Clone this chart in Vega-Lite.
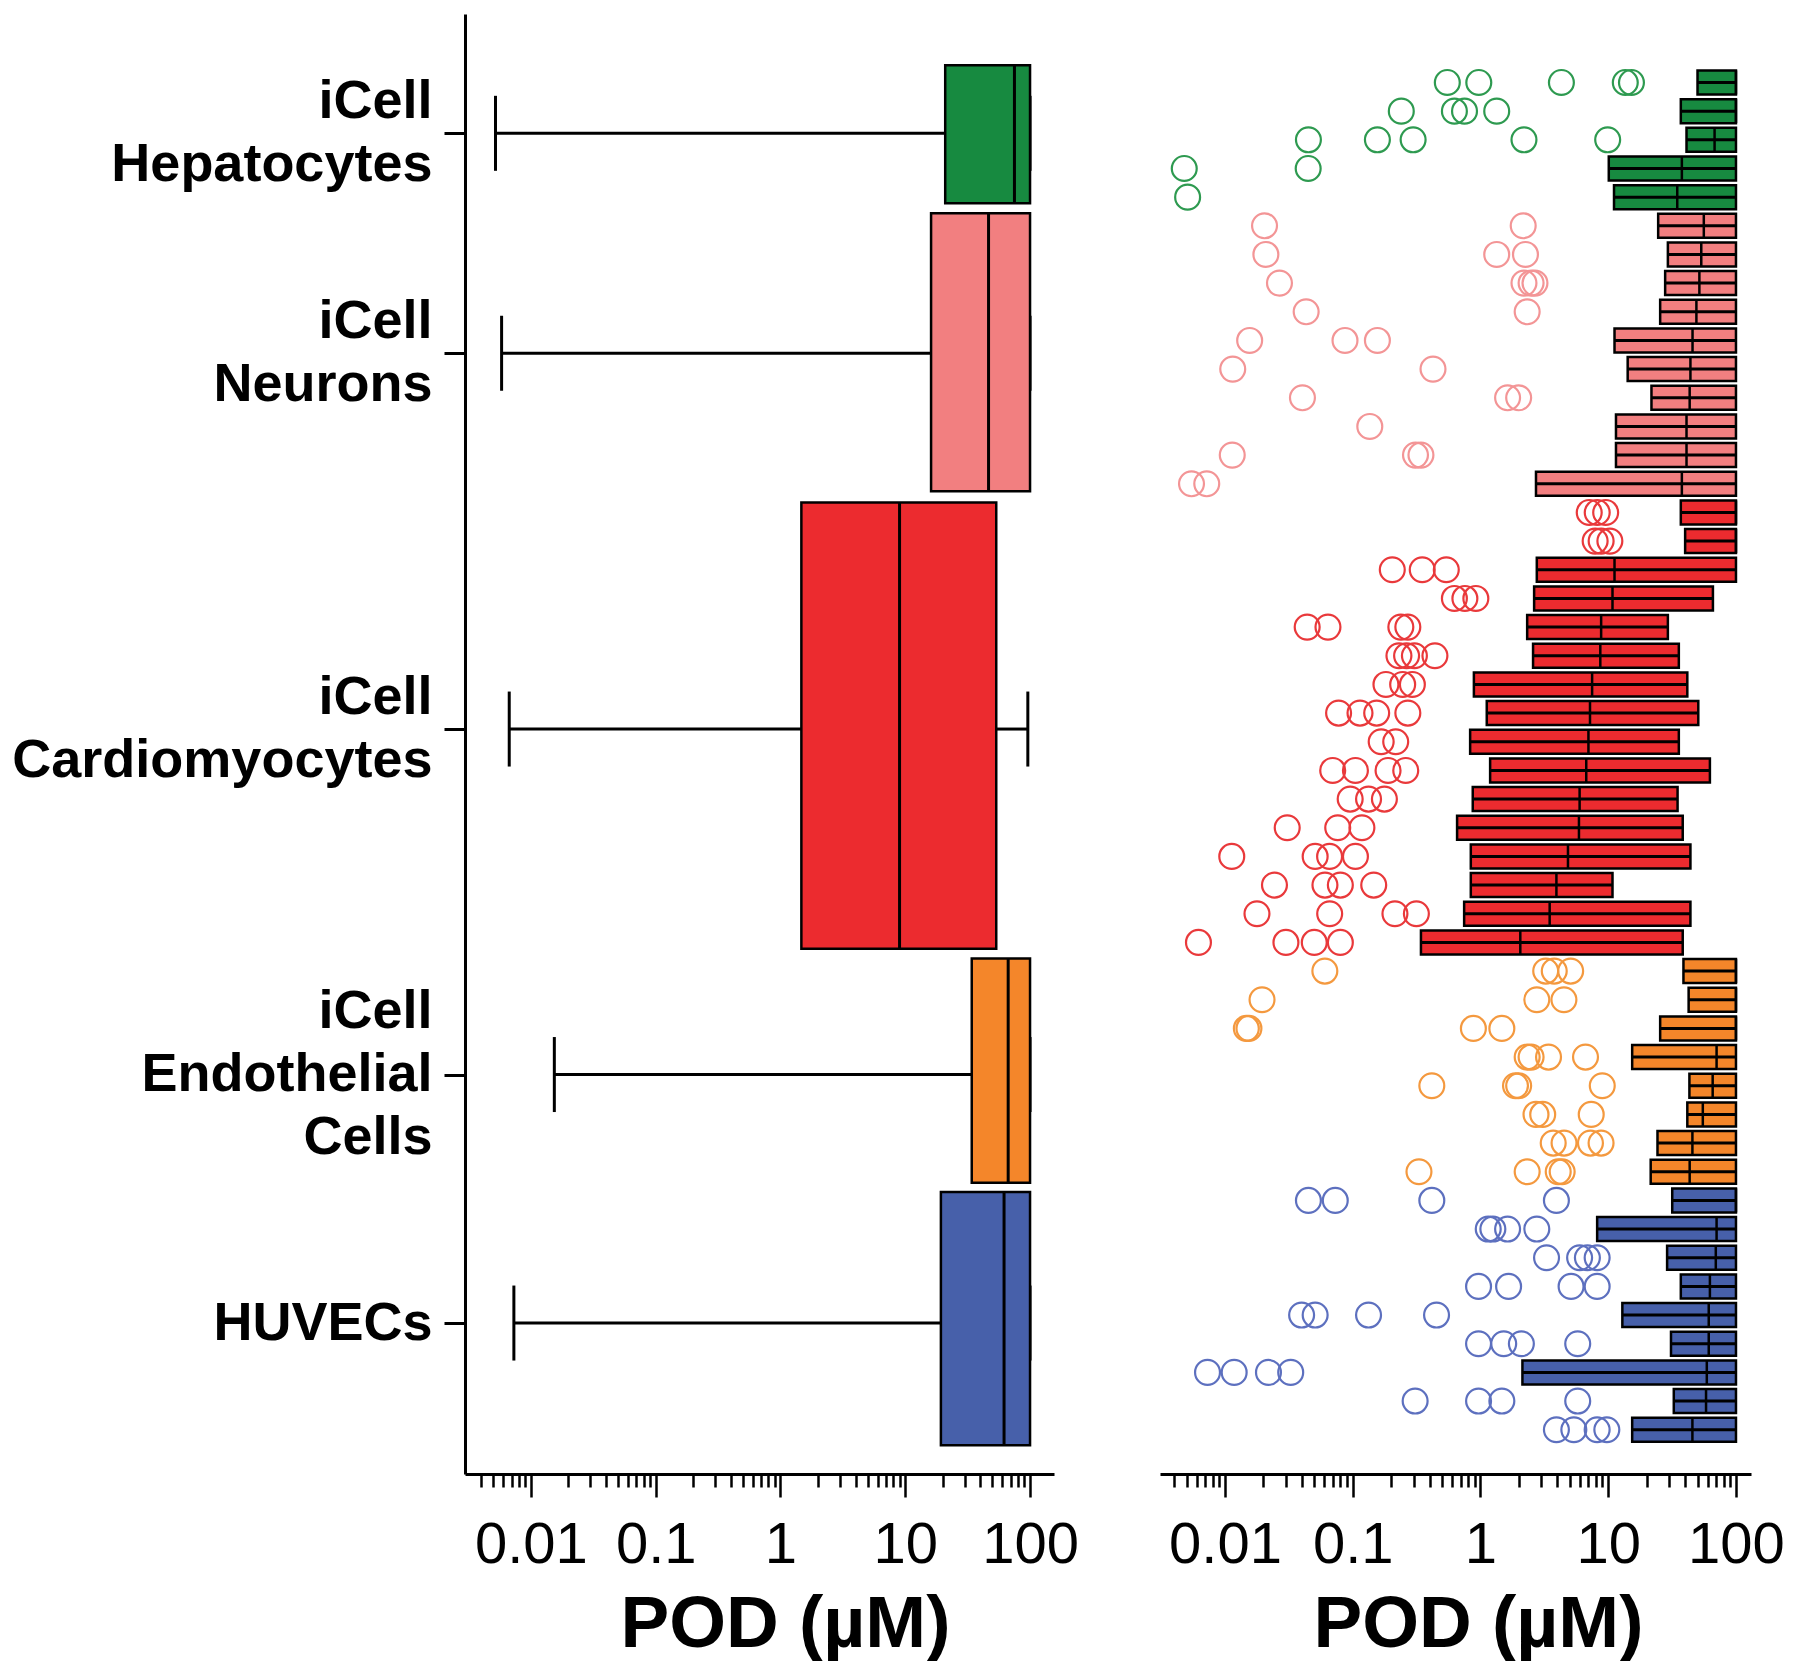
{
  "$schema": "https://vega.github.io/schema/vega-lite/v6.json",
  "padding": {"left": 11, "top": 14, "right": 0, "bottom": 0},
  "config": {"view": {"stroke": null}, "font": "Liberation Sans"},
  "datasets": {
    "lb": [
      {"c": "Hepatocytes", "mid": 1.92, "top": -0.44, "bot": 4.34, "mn": 0.0052, "q1": 20.9, "med": 75, "q3": 100, "mx": 100},
      {"c": "Neurons", "mid": 9.54, "top": 4.69, "bot": 14.32, "mn": 0.00582, "q1": 16.1, "med": 46.5, "q3": 100, "mx": 100},
      {"c": "Cardiomyocytes", "mid": 22.56, "top": 14.71, "bot": 30.17, "mn": 0.0067, "q1": 1.47, "med": 9.0, "q3": 53.6, "mx": 96},
      {"c": "Endothelial", "mid": 34.53, "top": 30.51, "bot": 38.28, "mn": 0.0154, "q1": 34.1, "med": 66.8, "q3": 100, "mx": 100},
      {"c": "HUVECs", "mid": 43.14, "top": 38.6, "bot": 47.37, "mn": 0.0073, "q1": 19.3, "med": 61.9, "q3": 100, "mx": 100}
    ],
    "rb": [
      {"r": 0, "c": "Hepatocytes", "lo": 50, "med": 100, "hi": 100},
      {"r": 1, "c": "Hepatocytes", "lo": 37, "med": 100, "hi": 100},
      {"r": 2, "c": "Hepatocytes", "lo": 41, "med": 68, "hi": 100},
      {"r": 3, "c": "Hepatocytes", "lo": 10.1, "med": 37.7, "hi": 100},
      {"r": 4, "c": "Hepatocytes", "lo": 11.1, "med": 34.7, "hi": 100},
      {"r": 5, "c": "Neurons", "lo": 24.6, "med": 56, "hi": 100},
      {"r": 6, "c": "Neurons", "lo": 29.3, "med": 53.5, "hi": 100},
      {"r": 7, "c": "Neurons", "lo": 27.9, "med": 51.7, "hi": 100},
      {"r": 8, "c": "Neurons", "lo": 25.5, "med": 49, "hi": 100},
      {"r": 9, "c": "Neurons", "lo": 11.2, "med": 45.7, "hi": 100},
      {"r": 10, "c": "Neurons", "lo": 14.2, "med": 44, "hi": 100},
      {"r": 11, "c": "Neurons", "lo": 21.8, "med": 43.4, "hi": 100},
      {"r": 12, "c": "Neurons", "lo": 11.5, "med": 41, "hi": 100},
      {"r": 13, "c": "Neurons", "lo": 11.5, "med": 41, "hi": 100},
      {"r": 14, "c": "Neurons", "lo": 2.72, "med": 37.7, "hi": 100},
      {"r": 15, "c": "Cardiomyocytes", "lo": 37, "med": 100, "hi": 100},
      {"r": 16, "c": "Cardiomyocytes", "lo": 40, "med": 100, "hi": 100},
      {"r": 17, "c": "Cardiomyocytes", "lo": 2.76, "med": 11.2, "hi": 100},
      {"r": 18, "c": "Cardiomyocytes", "lo": 2.63, "med": 10.8, "hi": 66},
      {"r": 19, "c": "Cardiomyocytes", "lo": 2.32, "med": 8.8, "hi": 29.3},
      {"r": 20, "c": "Cardiomyocytes", "lo": 2.58, "med": 8.67, "hi": 35.7},
      {"r": 21, "c": "Cardiomyocytes", "lo": 0.888, "med": 7.48, "hi": 41.6},
      {"r": 22, "c": "Cardiomyocytes", "lo": 1.12, "med": 7.2, "hi": 50.7},
      {"r": 23, "c": "Cardiomyocytes", "lo": 0.83, "med": 7.0, "hi": 35.7},
      {"r": 24, "c": "Cardiomyocytes", "lo": 1.19, "med": 6.73, "hi": 62.5},
      {"r": 25, "c": "Cardiomyocytes", "lo": 0.87, "med": 5.97, "hi": 34.9},
      {"r": 26, "c": "Cardiomyocytes", "lo": 0.656, "med": 5.9, "hi": 38.3},
      {"r": 27, "c": "Cardiomyocytes", "lo": 0.84, "med": 4.84, "hi": 44},
      {"r": 28, "c": "Cardiomyocytes", "lo": 0.84, "med": 3.93, "hi": 10.8},
      {"r": 29, "c": "Cardiomyocytes", "lo": 0.745, "med": 3.48, "hi": 44},
      {"r": 30, "c": "Cardiomyocytes", "lo": 0.342, "med": 2.05, "hi": 38.3},
      {"r": 31, "c": "Endothelial", "lo": 38.8, "med": 100, "hi": 100},
      {"r": 32, "c": "Endothelial", "lo": 42.6, "med": 100, "hi": 100},
      {"r": 33, "c": "Endothelial", "lo": 25.5, "med": 100, "hi": 100},
      {"r": 34, "c": "Endothelial", "lo": 15.4, "med": 70.5, "hi": 100},
      {"r": 35, "c": "Endothelial", "lo": 43.2, "med": 65.7, "hi": 100},
      {"r": 36, "c": "Endothelial", "lo": 41.6, "med": 55, "hi": 100},
      {"r": 37, "c": "Endothelial", "lo": 24.3, "med": 45.6, "hi": 100},
      {"r": 38, "c": "Endothelial", "lo": 21.5, "med": 43.4, "hi": 100},
      {"r": 39, "c": "HUVECs", "lo": 31.7, "med": 100, "hi": 100},
      {"r": 40, "c": "HUVECs", "lo": 8.19, "med": 70.5, "hi": 100},
      {"r": 41, "c": "HUVECs", "lo": 28.9, "med": 69.5, "hi": 100},
      {"r": 42, "c": "HUVECs", "lo": 37, "med": 62.5, "hi": 100},
      {"r": 43, "c": "HUVECs", "lo": 12.9, "med": 61.2, "hi": 100},
      {"r": 44, "c": "HUVECs", "lo": 31, "med": 61.2, "hi": 100},
      {"r": 45, "c": "HUVECs", "lo": 2.13, "med": 59.1, "hi": 100},
      {"r": 46, "c": "HUVECs", "lo": 32.6, "med": 58.3, "hi": 100},
      {"r": 47, "c": "HUVECs", "lo": 15.4, "med": 45.6, "hi": 100}
    ],
    "pts": [
      {"r": 0, "c": "Hepatocytes", "v": 0.55}, {"r": 0, "c": "Hepatocytes", "v": 0.97}, {"r": 0, "c": "Hepatocytes", "v": 4.3}, {"r": 0, "c": "Hepatocytes", "v": 13.6}, {"r": 0, "c": "Hepatocytes", "v": 15.2},
      {"r": 1, "c": "Hepatocytes", "v": 0.24}, {"r": 1, "c": "Hepatocytes", "v": 0.625}, {"r": 1, "c": "Hepatocytes", "v": 0.75}, {"r": 1, "c": "Hepatocytes", "v": 1.34},
      {"r": 2, "c": "Hepatocytes", "v": 0.045}, {"r": 2, "c": "Hepatocytes", "v": 0.156}, {"r": 2, "c": "Hepatocytes", "v": 0.297}, {"r": 2, "c": "Hepatocytes", "v": 2.19}, {"r": 2, "c": "Hepatocytes", "v": 9.9},
      {"r": 3, "c": "Hepatocytes", "v": 0.0048}, {"r": 3, "c": "Hepatocytes", "v": 0.0448},
      {"r": 4, "c": "Hepatocytes", "v": 0.0051},
      {"r": 5, "c": "Neurons", "v": 0.0204}, {"r": 5, "c": "Neurons", "v": 2.16},
      {"r": 6, "c": "Neurons", "v": 0.0209}, {"r": 6, "c": "Neurons", "v": 1.34}, {"r": 6, "c": "Neurons", "v": 2.25},
      {"r": 7, "c": "Neurons", "v": 0.0267}, {"r": 7, "c": "Neurons", "v": 2.19}, {"r": 7, "c": "Neurons", "v": 2.49}, {"r": 7, "c": "Neurons", "v": 2.67},
      {"r": 8, "c": "Neurons", "v": 0.0432}, {"r": 8, "c": "Neurons", "v": 2.32},
      {"r": 9, "c": "Neurons", "v": 0.0156}, {"r": 9, "c": "Neurons", "v": 0.087}, {"r": 9, "c": "Neurons", "v": 0.156},
      {"r": 10, "c": "Neurons", "v": 0.0115}, {"r": 10, "c": "Neurons", "v": 0.425},
      {"r": 11, "c": "Neurons", "v": 0.0404}, {"r": 11, "c": "Neurons", "v": 1.63}, {"r": 11, "c": "Neurons", "v": 1.99},
      {"r": 12, "c": "Neurons", "v": 0.136},
      {"r": 13, "c": "Neurons", "v": 0.0114}, {"r": 13, "c": "Neurons", "v": 0.31}, {"r": 13, "c": "Neurons", "v": 0.342},
      {"r": 14, "c": "Neurons", "v": 0.00547}, {"r": 14, "c": "Neurons", "v": 0.0072},
      {"r": 15, "c": "Cardiomyocytes", "v": 7.1}, {"r": 15, "c": "Cardiomyocytes", "v": 8.2}, {"r": 15, "c": "Cardiomyocytes", "v": 9.55},
      {"r": 16, "c": "Cardiomyocytes", "v": 7.9}, {"r": 16, "c": "Cardiomyocytes", "v": 8.8}, {"r": 16, "c": "Cardiomyocytes", "v": 10.3},
      {"r": 17, "c": "Cardiomyocytes", "v": 0.204}, {"r": 17, "c": "Cardiomyocytes", "v": 0.35}, {"r": 17, "c": "Cardiomyocytes", "v": 0.54},
      {"r": 18, "c": "Cardiomyocytes", "v": 0.625}, {"r": 18, "c": "Cardiomyocytes", "v": 0.755}, {"r": 18, "c": "Cardiomyocytes", "v": 0.92},
      {"r": 19, "c": "Cardiomyocytes", "v": 0.044}, {"r": 19, "c": "Cardiomyocytes", "v": 0.064}, {"r": 19, "c": "Cardiomyocytes", "v": 0.238}, {"r": 19, "c": "Cardiomyocytes", "v": 0.27},
      {"r": 20, "c": "Cardiomyocytes", "v": 0.23}, {"r": 20, "c": "Cardiomyocytes", "v": 0.264}, {"r": 20, "c": "Cardiomyocytes", "v": 0.304}, {"r": 20, "c": "Cardiomyocytes", "v": 0.44},
      {"r": 21, "c": "Cardiomyocytes", "v": 0.182}, {"r": 21, "c": "Cardiomyocytes", "v": 0.246}, {"r": 21, "c": "Cardiomyocytes", "v": 0.293},
      {"r": 22, "c": "Cardiomyocytes", "v": 0.0775}, {"r": 22, "c": "Cardiomyocytes", "v": 0.114}, {"r": 22, "c": "Cardiomyocytes", "v": 0.154}, {"r": 22, "c": "Cardiomyocytes", "v": 0.27},
      {"r": 23, "c": "Cardiomyocytes", "v": 0.167}, {"r": 23, "c": "Cardiomyocytes", "v": 0.217},
      {"r": 24, "c": "Cardiomyocytes", "v": 0.0697}, {"r": 24, "c": "Cardiomyocytes", "v": 0.105}, {"r": 24, "c": "Cardiomyocytes", "v": 0.189}, {"r": 24, "c": "Cardiomyocytes", "v": 0.26},
      {"r": 25, "c": "Cardiomyocytes", "v": 0.0955}, {"r": 25, "c": "Cardiomyocytes", "v": 0.133}, {"r": 25, "c": "Cardiomyocytes", "v": 0.177},
      {"r": 26, "c": "Cardiomyocytes", "v": 0.0307}, {"r": 26, "c": "Cardiomyocytes", "v": 0.0763}, {"r": 26, "c": "Cardiomyocytes", "v": 0.118},
      {"r": 27, "c": "Cardiomyocytes", "v": 0.0113}, {"r": 27, "c": "Cardiomyocytes", "v": 0.0508}, {"r": 27, "c": "Cardiomyocytes", "v": 0.0659}, {"r": 27, "c": "Cardiomyocytes", "v": 0.105},
      {"r": 28, "c": "Cardiomyocytes", "v": 0.0244}, {"r": 28, "c": "Cardiomyocytes", "v": 0.0606}, {"r": 28, "c": "Cardiomyocytes", "v": 0.08}, {"r": 28, "c": "Cardiomyocytes", "v": 0.146},
      {"r": 29, "c": "Cardiomyocytes", "v": 0.0178}, {"r": 29, "c": "Cardiomyocytes", "v": 0.066}, {"r": 29, "c": "Cardiomyocytes", "v": 0.214}, {"r": 29, "c": "Cardiomyocytes", "v": 0.315},
      {"r": 30, "c": "Cardiomyocytes", "v": 0.0062}, {"r": 30, "c": "Cardiomyocytes", "v": 0.03}, {"r": 30, "c": "Cardiomyocytes", "v": 0.05}, {"r": 30, "c": "Cardiomyocytes", "v": 0.08},
      {"r": 31, "c": "Endothelial", "v": 0.0605}, {"r": 31, "c": "Endothelial", "v": 3.24}, {"r": 31, "c": "Endothelial", "v": 3.78}, {"r": 31, "c": "Endothelial", "v": 5.08},
      {"r": 32, "c": "Endothelial", "v": 0.0195}, {"r": 32, "c": "Endothelial", "v": 2.76}, {"r": 32, "c": "Endothelial", "v": 4.5},
      {"r": 33, "c": "Endothelial", "v": 0.0147}, {"r": 33, "c": "Endothelial", "v": 0.0154}, {"r": 33, "c": "Endothelial", "v": 0.88}, {"r": 33, "c": "Endothelial", "v": 1.47},
      {"r": 34, "c": "Endothelial", "v": 2.32}, {"r": 34, "c": "Endothelial", "v": 2.49}, {"r": 34, "c": "Endothelial", "v": 3.41}, {"r": 34, "c": "Endothelial", "v": 6.64},
      {"r": 35, "c": "Endothelial", "v": 0.416}, {"r": 35, "c": "Endothelial", "v": 1.88}, {"r": 35, "c": "Endothelial", "v": 1.99}, {"r": 35, "c": "Endothelial", "v": 8.98},
      {"r": 36, "c": "Endothelial", "v": 2.72}, {"r": 36, "c": "Endothelial", "v": 3.07}, {"r": 36, "c": "Endothelial", "v": 7.36},
      {"r": 37, "c": "Endothelial", "v": 3.71}, {"r": 37, "c": "Endothelial", "v": 4.51}, {"r": 37, "c": "Endothelial", "v": 7.26}, {"r": 37, "c": "Endothelial", "v": 8.79},
      {"r": 38, "c": "Endothelial", "v": 0.33}, {"r": 38, "c": "Endothelial", "v": 2.32}, {"r": 38, "c": "Endothelial", "v": 4.06}, {"r": 38, "c": "Endothelial", "v": 4.36},
      {"r": 39, "c": "HUVECs", "v": 0.045}, {"r": 39, "c": "HUVECs", "v": 0.073}, {"r": 39, "c": "HUVECs", "v": 0.416}, {"r": 39, "c": "HUVECs", "v": 3.93},
      {"r": 40, "c": "HUVECs", "v": 1.15}, {"r": 40, "c": "HUVECs", "v": 1.25}, {"r": 40, "c": "HUVECs", "v": 1.63}, {"r": 40, "c": "HUVECs", "v": 2.76},
      {"r": 41, "c": "HUVECs", "v": 3.29}, {"r": 41, "c": "HUVECs", "v": 5.97}, {"r": 41, "c": "HUVECs", "v": 6.87}, {"r": 41, "c": "HUVECs", "v": 8.19},
      {"r": 42, "c": "HUVECs", "v": 0.966}, {"r": 42, "c": "HUVECs", "v": 1.66}, {"r": 42, "c": "HUVECs", "v": 5.12}, {"r": 42, "c": "HUVECs", "v": 8.19},
      {"r": 43, "c": "HUVECs", "v": 0.0398}, {"r": 43, "c": "HUVECs", "v": 0.0508}, {"r": 43, "c": "HUVECs", "v": 0.133}, {"r": 43, "c": "HUVECs", "v": 0.453},
      {"r": 44, "c": "HUVECs", "v": 0.966}, {"r": 44, "c": "HUVECs", "v": 1.52}, {"r": 44, "c": "HUVECs", "v": 2.09}, {"r": 44, "c": "HUVECs", "v": 5.77},
      {"r": 45, "c": "HUVECs", "v": 0.0073}, {"r": 45, "c": "HUVECs", "v": 0.0118}, {"r": 45, "c": "HUVECs", "v": 0.0219}, {"r": 45, "c": "HUVECs", "v": 0.0327},
      {"r": 46, "c": "HUVECs", "v": 0.308}, {"r": 46, "c": "HUVECs", "v": 0.966}, {"r": 46, "c": "HUVECs", "v": 1.47}, {"r": 46, "c": "HUVECs", "v": 5.77},
      {"r": 47, "c": "HUVECs", "v": 3.93}, {"r": 47, "c": "HUVECs", "v": 5.38}, {"r": 47, "c": "HUVECs", "v": 8.19}, {"r": 47, "c": "HUVECs", "v": 9.75}
    ]
  },
  "hconcat": [
    {
      "width": 589,
      "height": 1460,
      "data": {"name": "lb"},
      "encoding": {
        "y": {
          "field": "mid", "type": "quantitative",
          "scale": {"domain": [-2.214, 48.37], "reverse": true, "nice": false, "zero": false},
          "axis": {
            "title": null, "grid": false,
            "values": [1.92, 9.54, 22.56, 34.53, 43.14],
            "labelExpr": "datum.value < 5 ? ['iCell','Hepatocytes'] : datum.value < 15 ? ['iCell','Neurons'] : datum.value < 30 ? ['iCell','Cardiomyocytes'] : datum.value < 40 ? ['iCell','Endothelial','Cells'] : 'HUVECs'",
            "labelFont": "Liberation Sans", "labelFontWeight": "bold", "labelFontSize": 54, "labelColor": "black",
            "labelLineHeight": 63, "labelPadding": 12, "labelLimit": 0, "labelOverlap": false, "labelBound": false, "labelFlush": false,
            "labelOffset": {"condition": [{"test": "datum.value > 30 && datum.value < 40", "value": -63}, {"test": "datum.value < 30", "value": -31.5}], "value": 0},
            "tickSize": 21, "tickWidth": 3, "tickColor": "black",
            "domainWidth": 3, "domainColor": "black"
          }
        }
      },
      "layer": [
        {
          "mark": {"type": "rule", "color": "black", "strokeWidth": 3},
          "encoding": {
            "x": {
              "field": "mn", "type": "quantitative",
              "scale": {"type": "log", "domain": [0.002962, 155.6], "nice": false},
              "axis": {
                "title": "POD (µM)", "grid": false,
                "values": [0.004,0.005,0.006,0.007,0.008,0.009,0.01,0.02,0.03,0.04,0.05,0.06,0.07,0.08,0.09,0.1,0.2,0.3,0.4,0.5,0.6,0.7,0.8,0.9,1,2,3,4,5,6,7,8,9,10,20,30,40,50,60,70,80,90,100],
                "labelExpr": "abs(log(datum.value)/LN10 - round(log(datum.value)/LN10)) < 0.01 ? format(datum.value, '~g') : ''",
                "labelFont": "Liberation Sans", "labelFontSize": 58, "labelColor": "black",
                "labelOverlap": false, "labelBound": false, "labelFlush": false, "labelPadding": 19,
                "tickSize": {"condition": {"test": "abs(log(datum.value)/LN10 - round(log(datum.value)/LN10)) < 0.01", "value": 23}, "value": 13},
                "tickWidth": 2.5, "tickColor": "black",
                "domainWidth": 3, "domainColor": "black",
                "titleFont": "Liberation Sans", "titleFontWeight": "bold", "titleFontSize": 73, "titleColor": "black",
                "titlePadding": 14, "titleX": 320, "titleAlign": "center"
              }
            },
            "x2": {"field": "q1"}
          }
        },
        {
          "mark": {"type": "rule", "color": "black", "strokeWidth": 3},
          "encoding": {"x": {"field": "q3", "type": "quantitative"}, "x2": {"field": "mx"}}
        },
        {
          "mark": {"type": "tick", "orient": "vertical", "color": "black", "size": 75, "thickness": 3, "opacity": 1},
          "encoding": {"x": {"field": "mn", "type": "quantitative"}}
        },
        {
          "mark": {"type": "tick", "orient": "vertical", "color": "black", "size": 75, "thickness": 3, "opacity": 1},
          "encoding": {"x": {"field": "mx", "type": "quantitative"}}
        },
        {
          "mark": {"type": "rect", "stroke": "black", "strokeWidth": 2.5, "opacity": 1},
          "encoding": {
            "x": {"field": "q1", "type": "quantitative"},
            "x2": {"field": "q3"},
            "y": {"field": "top", "type": "quantitative"},
            "y2": {"field": "bot"},
            "color": {
              "field": "c", "type": "nominal", "legend": null,
              "scale": {"domain": ["Hepatocytes", "Neurons", "Cardiomyocytes", "Endothelial", "HUVECs"], "range": ["#178a40", "#f27f80", "#ec2b2f", "#f4862a", "#4760aa"]}
            }
          }
        },
        {
          "mark": {"type": "rule", "color": "black", "strokeWidth": 3},
          "encoding": {
            "x": {"field": "med", "type": "quantitative"},
            "y": {"field": "top", "type": "quantitative"},
            "y2": {"field": "bot"}
          }
        }
      ]
    },
    {
      "width": 591,
      "height": 1460,
      "encoding": {
        "y": {
          "field": "r", "type": "quantitative",
          "scale": {"domain": [-2.214, 48.37], "reverse": true, "nice": false, "zero": false},
          "axis": null
        }
      },
      "layer": [
        {
          "data": {"name": "pts"},
          "mark": {"type": "point", "shape": "circle", "filled": false, "size": 620, "strokeWidth": 2.2, "opacity": 1},
          "encoding": {
            "x": {
              "field": "v", "type": "quantitative",
              "scale": {"type": "log", "domain": [0.0031, 131.1], "nice": false},
              "axis": {
                "title": "POD (µM)", "grid": false,
                "values": [0.004,0.005,0.006,0.007,0.008,0.009,0.01,0.02,0.03,0.04,0.05,0.06,0.07,0.08,0.09,0.1,0.2,0.3,0.4,0.5,0.6,0.7,0.8,0.9,1,2,3,4,5,6,7,8,9,10,20,30,40,50,60,70,80,90,100],
                "labelExpr": "abs(log(datum.value)/LN10 - round(log(datum.value)/LN10)) < 0.01 ? format(datum.value, '~g') : ''",
                "labelFont": "Liberation Sans", "labelFontSize": 58, "labelColor": "black",
                "labelOverlap": false, "labelBound": false, "labelFlush": false, "labelPadding": 19,
                "tickSize": {"condition": {"test": "abs(log(datum.value)/LN10 - round(log(datum.value)/LN10)) < 0.01", "value": 23}, "value": 13},
                "tickWidth": 2.5, "tickColor": "black",
                "domainWidth": 3, "domainColor": "black",
                "titleFont": "Liberation Sans", "titleFontWeight": "bold", "titleFontSize": 73, "titleColor": "black",
                "titlePadding": 14, "titleX": 318, "titleAlign": "center"
              }
            },
            "stroke": {
              "field": "c", "type": "nominal", "legend": null,
              "scale": {"domain": ["Hepatocytes", "Neurons", "Cardiomyocytes", "Endothelial", "HUVECs"], "range": ["#2e9a50", "#f39596", "#e9393b", "#f4993f", "#5d70bf"]}
            }
          }
        },
        {
          "data": {"name": "rb"},
          "mark": {"type": "bar", "size": 24, "stroke": "black", "strokeWidth": 2.5, "opacity": 1},
          "encoding": {
            "x": {"field": "lo", "type": "quantitative"},
            "x2": {"field": "hi"},
            "color": {
              "field": "c", "type": "nominal", "legend": null,
              "scale": {"domain": ["Hepatocytes", "Neurons", "Cardiomyocytes", "Endothelial", "HUVECs"], "range": ["#178a40", "#f27f80", "#ec2b2f", "#f4862a", "#4760aa"]}
            }
          }
        },
        {
          "data": {"name": "rb"},
          "mark": {"type": "rule", "color": "black", "strokeWidth": 3},
          "encoding": {"x": {"field": "lo", "type": "quantitative"}, "x2": {"field": "hi"}}
        },
        {
          "data": {"name": "rb"},
          "mark": {"type": "tick", "orient": "vertical", "color": "black", "size": 24, "thickness": 2.5, "opacity": 1},
          "encoding": {"x": {"field": "med", "type": "quantitative"}}
        },
        {
          "data": {"values": [{}]},
          "mark": {"type": "rule", "color": "black", "strokeWidth": 3},
          "encoding": {"x": {"datum": 0.0031}, "y": {"datum": -1.8}, "y2": {"datum": 48.37}}
        }
      ]
    }
  ],
  "spacing": 106,
  "bounds": "flush"
}
